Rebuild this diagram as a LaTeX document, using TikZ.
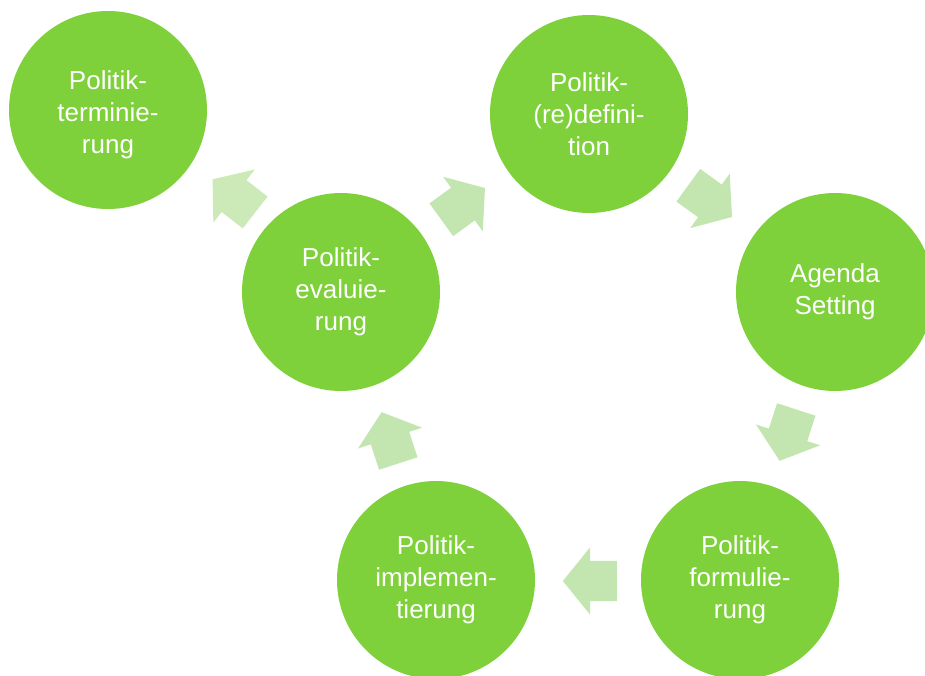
\documentclass[tikz,border=0pt]{standalone}
\usepackage{fontspec}
\setmainfont{Liberation Sans}
\usetikzlibrary{shapes.arrows}
\definecolor{gruen}{HTML}{7FD13B}
\definecolor{hellgruen}{HTML}{C3E5B0}
\definecolor{blassgruen}{HTML}{CCEAB8}
\begin{document}
\begin{tikzpicture}[x=1pt,y=-1pt,
    phase/.style={circle,fill=gruen,text=white,minimum size=198pt,inner sep=0pt,
      align=center,font=\fontsize{26}{32}\selectfont},
    pfeil/.style={single arrow,fill=hellgruen,draw=none,inner xsep=0pt,inner ysep=20pt,
      minimum height=54pt,single arrow head extend=13.5pt,
      single arrow tip angle=102}]
        \useasboundingbox (0,0) rectangle (925,676);
        \clip (0,0) rectangle (925,676);
        \node[phase] (term) at (108,110) {\raisebox{-5pt}[\height][\depth]{\begin{tabular}{@{}c@{}}Politik-\\terminie-\\rung\end{tabular}}}; % oben links
        \node[phase] (redef) at (589,114) {Politik-\\(re)defini-\\tion};
        \node[phase] (agenda) at (835,292) {Agenda\\Setting};
        \node[phase] (form) at (740,580) {Politik-\\formulie-\\rung};
        \node[phase] (impl) at (436,580) {Politik-\\implemen-\\tierung};
        \node[phase] (eval) at (341,292) {Politik-\\evaluie-\\rung};
        \node[pfeil,fill=blassgruen,rotate=142,xshift=-8pt] (p1) at (234,196) {}; % eval -> term
        \foreach \n/\x/\y/\a in {p2/463/204/36,p3/710/201/-36,p4/788/435/-108,p5/590/581/180,p6/390/438/108}
            \node[pfeil,rotate=\a,xshift=-8pt] (\n) at (\x,\y) {};
\end{tikzpicture}
\end{document}
